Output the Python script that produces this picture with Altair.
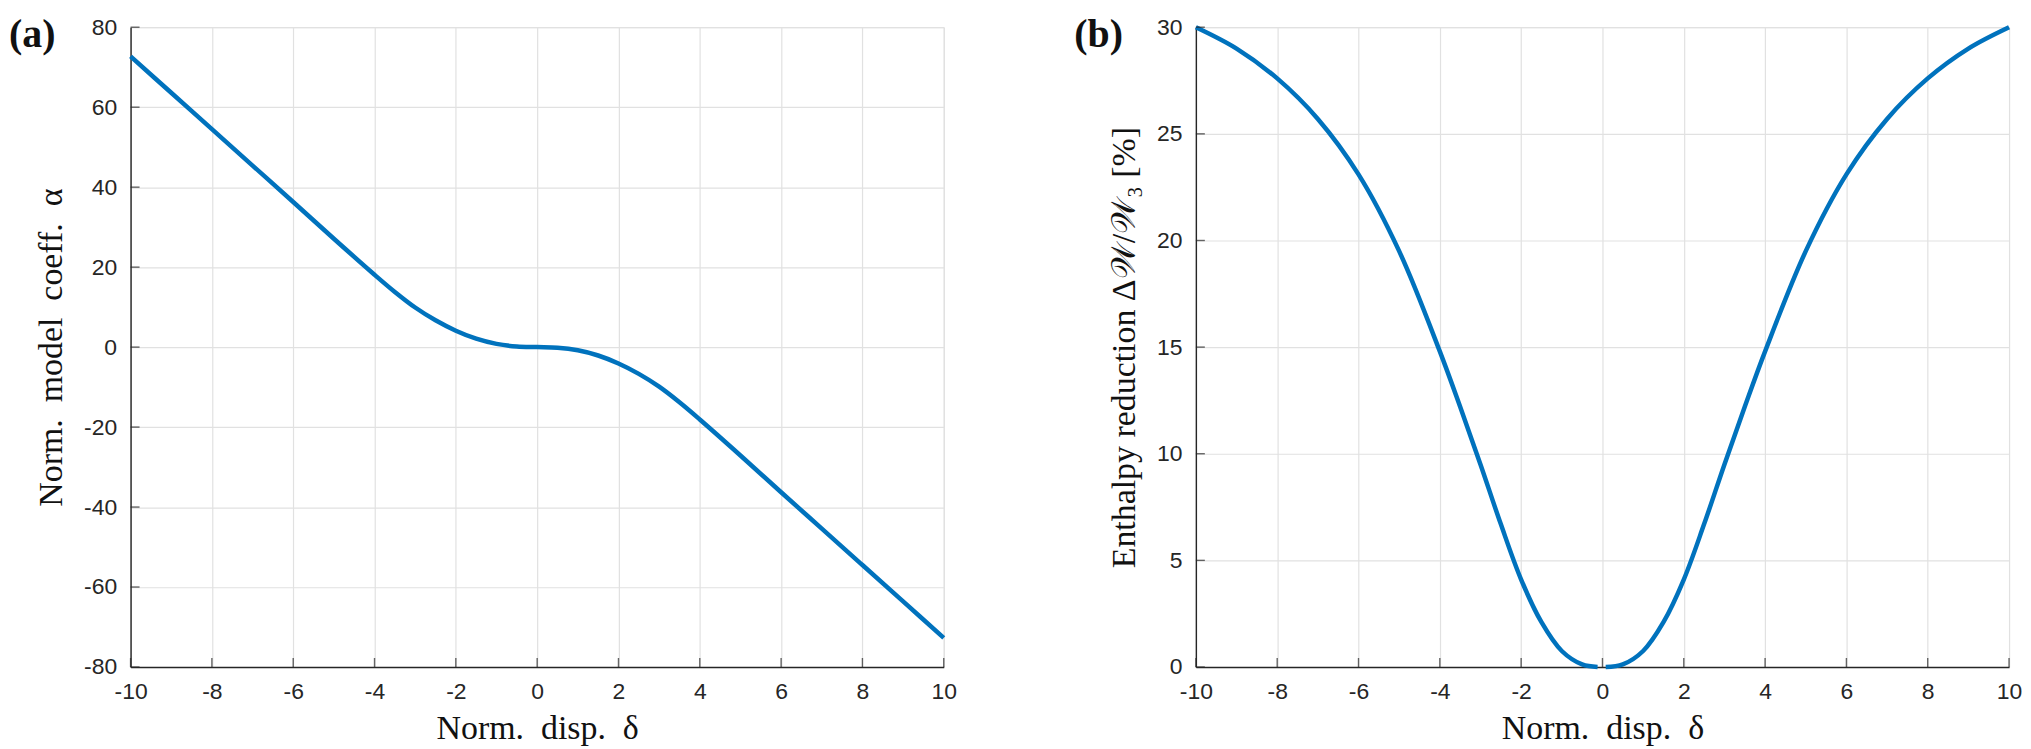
import altair as alt
import pandas as pd

# ---------------- data ----------------
x_ticks = [-10, -8, -6, -4, -2, 0, 2, 4, 6, 8, 10]
alpha_ticks = [-80, -60, -40, -20, 0, 20, 40, 60, 80]
enth_ticks = [0, 5, 10, 15, 20, 25, 30]
panel_labels = ["(a)", "(b)"]

alpha_delta = [-10, -9, -8, -7, -6, -5, -4, -3.5, -3, -2.5, -2, -1.5, -1, -0.5, 0,
               0.5, 1, 1.5, 2, 2.5, 3, 3.5, 4, 5, 6, 7, 8, 9, 10]
alpha_vals = [72.7, 63.6, 54.5, 45.4, 36.3, 27.1, 18.1, 13.8, 9.9, 6.7, 4.1, 2.1, 0.8, 0.15, 0.0,
              -0.15, -0.8, -2.1, -4.1, -6.7, -9.9, -13.8, -18.1, -27.1, -36.3, -45.4, -54.5, -63.6, -72.7]

enth_delta_neg = [-10, -9, -8, -7, -6, -5, -4, -3.5, -3, -2.5, -2, -1.5, -1, -0.5, -0.12]
enth_vals_neg = [30.0, 29.0, 27.6, 25.7, 23.1, 19.5, 14.8, 12.2, 9.5, 6.7, 4.1, 2.1, 0.75, 0.12, 0.0]
enth_delta_pos = [0.08, 0.5, 1, 1.5, 2, 2.5, 3, 3.5, 4, 5, 6, 7, 8, 9, 10]
enth_vals_pos = [0.0, 0.12, 0.75, 2.1, 4.1, 6.7, 9.5, 12.2, 14.8, 19.5, 23.1, 25.7, 27.6, 29.0, 30.0]

# ---------------- style ----------------
BLUE = "#0072BD"
AX = "#262626"
GRID = "#e1e1e1"
SERIF = "Liberation Serif"
SANS = "Liberation Sans"
W, H = 816, 642
SP = "\u2002"


def axis(vals, title, is_x):
    return alt.Axis(
        values=vals, title=title, grid=True, gridColor=GRID, gridWidth=1.2,
        domainColor=AX, domainWidth=1.4, ticks=False, tickSize=0,
        labelFont=SANS, labelFontSize=23, labelColor=AX,
        labelPadding=14, labelOverlap=False, labelFlush=False,
        labelExpr="'' + datum.value",
        titleFont=SERIF, titleFontSize=34, titleFontWeight="normal", titleColor="#111111",
        titlePadding=8 if is_x else 15,
    )


def panel(df, ydomain, yticks, ytitle, label):
    xs = alt.Scale(domain=[-10, 10], nice=False, zero=False)
    ys = alt.Scale(domain=ydomain, nice=False, zero=False)
    line = alt.Chart(df).mark_line(color=BLUE, strokeWidth=4.5, interpolate="catmull-rom").encode(
        x=alt.X("d:Q", scale=xs, axis=axis(x_ticks, f"Norm.{SP}disp.{SP}δ", True)),
        y=alt.Y("v:Q", scale=ys, axis=axis(yticks, ytitle, False)),
        detail="seg:N",
    )
    xtk = alt.Chart(pd.DataFrame({"d": x_ticks})).mark_tick(
        orient="vertical", size=9, thickness=1.4, color=AX, yOffset=-4.5
    ).encode(x=alt.X("d:Q", scale=xs), y=alt.datum(ydomain[0]))
    ytk = alt.Chart(pd.DataFrame({"v": yticks})).mark_tick(
        orient="horizontal", size=9, thickness=1.4, color=AX, xOffset=4.5
    ).encode(y=alt.Y("v:Q", scale=ys), x=alt.datum(-10))
    lab = alt.Chart(pd.DataFrame({"lab": [label]})).mark_text(
        font=SERIF, fontSize=40, fontWeight="bold", align="left", baseline="alphabetic", color="#111111"
    ).encode(x=alt.value(-122), y=alt.value(20), text="lab:N")
    return alt.layer(line, xtk, ytk, lab).properties(width=W, height=H)


df_a = pd.DataFrame({"d": alpha_delta, "v": alpha_vals, "seg": ["a"] * len(alpha_delta)})
df_b = pd.DataFrame({
    "d": enth_delta_neg + enth_delta_pos,
    "v": enth_vals_neg + enth_vals_pos,
    "seg": ["n"] * len(enth_delta_neg) + ["p"] * len(enth_delta_pos),
})

left = panel(df_a, [-80, 80], alpha_ticks, f"Norm.{SP}model{SP}coeff.{SP}α", panel_labels[0])
right = panel(df_b, [0, 30], enth_ticks, "Enthalpy reduction Δ𝒲/𝒲₃ [%]", panel_labels[1])

chart = alt.hconcat(left, right, spacing=116).properties(
    padding={"left": 0, "top": 5, "right": 0, "bottom": 0}
).configure_view(stroke=None).configure(background="white")

chart.save("out.html", embed_options={"renderer": "svg", "actions": False})
